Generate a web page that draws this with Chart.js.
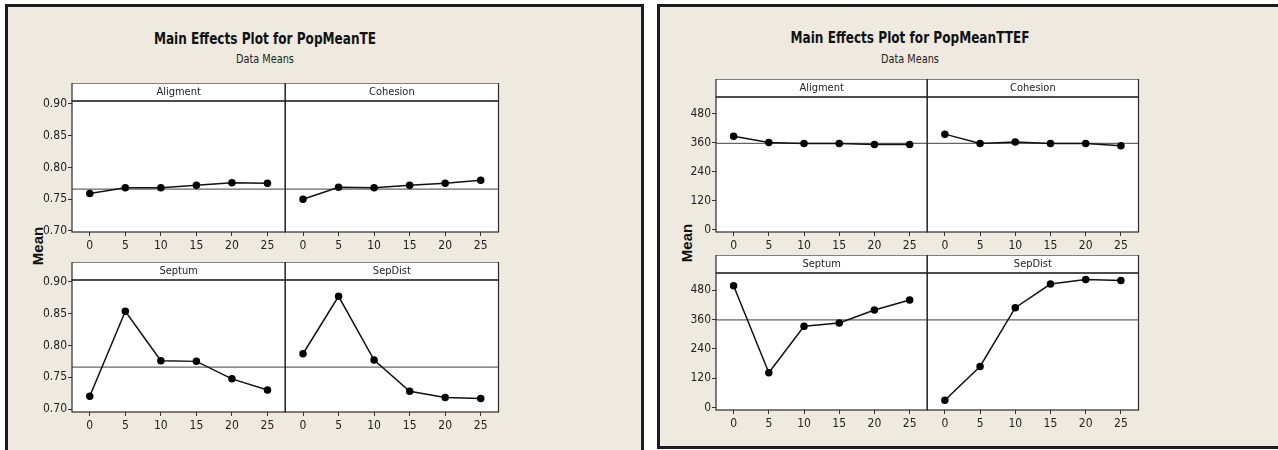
<!doctype html>
<html>
<head>
    <title>Main Effects Plots</title>
    <script src="https://cdn.jsdelivr.net/npm/chart.js@4.4.1/dist/chart.umd.min.js"></script>
    <style>
        html, body {
            margin: 0px;
            width: 1278px;
            height: 450px;
            overflow: hidden;
            background: #fff;
        }
        .panel {
            position: absolute;
            box-sizing: border-box;
            border: 3px solid #1c1c1c;
            background: #eeeae0;
        }
        .title, .sub, .ylab {
            position: absolute;
            text-align: center;
            color: #111;
            white-space: nowrap;
        }
        /* narrow, tall lettering for the headings */
        .title {
            width: 400px;
            font: bold 16px 'DejaVu Sans Condensed', 'Liberation Sans', sans-serif;
            line-height: 20px;
            transform: scaleX(0.84);
        }
        .sub {
            width: 200px;
            font: 13px 'DejaVu Sans Condensed', 'Liberation Sans', sans-serif;
            line-height: 16px;
            color: #222;
            transform: scaleX(0.83);
        }
        .ylab {
            width: 60px;
            font: bold 15px 'Liberation Sans', sans-serif;
            line-height: 16px;
            transform: rotate(-90deg);
        }
        canvas { position: absolute; }
    </style>
</head>

<body>
    <div class="panel" style="left:5px; top:4px; width:639px; height:470px;"></div>
    <div class="panel" style="left:657px; top:4px; width:660px; height:445px;"></div>

    <div class="title" style="left:65px; top:29px;">Main Effects Plot for PopMeanTE</div>
    <div class="sub" style="left:165px; top:51px;">Data Means</div>
    <div class="title" style="left:710px; top:28px;">Main Effects Plot for PopMeanTTEF</div>
    <div class="sub" style="left:810px; top:51px;">Data Means</div>
    <div class="ylab" style="left:8px; top:238px;">Mean</div>
    <div class="ylab" style="left:657px; top:235px;">Mean</div>

    <canvas id="teTop"></canvas>
    <canvas id="teBottom"></canvas>
    <canvas id="ttefTop"></canvas>
    <canvas id="ttefBottom"></canvas>

    <script>
        // factor levels (x) and the means read at each level
        var levels = [0, 5, 10, 15, 20, 25];

        var teAligment = [0.759, 0.768, 0.768, 0.772, 0.776, 0.775];
        var teCohesion = [0.750, 0.769, 0.768, 0.772, 0.775, 0.780];
        var teSeptum   = [0.720, 0.854, 0.776, 0.775, 0.7475, 0.730];
        var teSepDist  = [0.787, 0.8775, 0.777, 0.728, 0.718, 0.7167];
        var teGrandMean = 0.766;
        var teTicks = [0.70, 0.75, 0.80, 0.85, 0.90];

        var ttefAligment = [387, 361, 357, 357, 353, 353];
        var ttefCohesion = [396, 357, 363, 357, 357, 348];
        var ttefSeptum   = [498, 142, 332, 346, 399, 440];
        var ttefSepDist  = [30, 168, 408, 505, 523, 519];
        var ttefGrandMean = 358;
        var ttefTicks = [0, 120, 240, 360, 480];

        var XMIN = -2.5, XMAX = 27.5;
        var YW = 50, PR = 4, XH = 26, STRIP = 18;
        var FONT = "'DejaVu Sans Condensed', 'Liberation Sans', sans-serif";

        // draws the white plot boxes, the label strips above them and the frames
        var stripPlugin = {
            id: 'strips',
            beforeDraw: function(chart, args, opts) {
                var ctx = chart.ctx, a = chart.chartArea;
                ctx.save();
                ctx.fillStyle = '#fff';
                ['xa', 'xb'].forEach(function(id) {
                    var s = chart.scales[id];
                    ctx.fillRect(s.left, a.top - STRIP, s.right - s.left, a.bottom - a.top + STRIP);
                });
                ctx.restore();
            },
            afterDraw: function(chart, args, opts) {
                var ctx = chart.ctx, a = chart.chartArea;
                ctx.save();
                ctx.strokeStyle = '#2a2a2a';
                ctx.lineWidth = 1.2;
                ctx.fillStyle = '#222';
                ctx.font = '11px ' + FONT;
                ctx.textAlign = 'center';
                ctx.textBaseline = 'middle';
                ['xa', 'xb'].forEach(function(id, i) {
                    var s = chart.scales[id];
                    ctx.strokeRect(s.left, a.top - STRIP, s.right - s.left, STRIP);
                    ctx.strokeRect(s.left, a.top, s.right - s.left, a.bottom - a.top);
                    ctx.fillText(opts.names[i], (s.left + s.right) / 2, a.top - STRIP / 2);
                });
                ctx.restore();
            }
        };

        function xScale() {
            return {
                type: 'linear',
                position: 'bottom',
                stack: 'row',
                min: XMIN,
                max: XMAX,
                afterBuildTicks: function(s) { s.ticks = levels.map(function(v) { return {value: v}; }); },
                afterFit: function(s) { s.height = XH; },
                grid: { drawOnChartArea: false, tickLength: 4, color: '#333' },
                border: { display: false },
                ticks: { color: '#222', padding: 3, font: { family: FONT, size: 12 } }
            };
        }

        function series(vals, axis) {
            return {
                data: levels.map(function(x, k) { return {x: x, y: vals[k]}; }),
                xAxisID: axis,
                yAxisID: 'y',
                showLine: true,
                borderColor: '#111',
                borderWidth: 1.5,
                pointRadius: 3,
                pointBackgroundColor: '#000',
                pointBorderColor: '#000',
                order: 1
            };
        }

        function meanLine(mean, axis) {
            return {
                data: [{x: XMIN, y: mean}, {x: XMAX, y: mean}],
                xAxisID: axis,
                yAxisID: 'y',
                showLine: true,
                borderColor: '#666',
                borderWidth: 1.2,
                pointRadius: 0,
                order: 2
            };
        }

        function makeRow(id, box, names, a, b, mean, yTicks, yMin, yMax, digits) {
            var cv = document.getElementById(id);
            cv.width = YW + (box.right - box.left) + PR;
            cv.height = box.bottom - box.top + STRIP + XH;
            cv.style.left = (box.left - YW) + 'px';
            cv.style.top = (box.top - STRIP) + 'px';

            return new Chart(cv.getContext('2d'), {
                type: 'scatter',
                data: {
                    datasets: [
                        series(a, 'xa'), series(b, 'xb'),
                        meanLine(mean, 'xa'), meanLine(mean, 'xb')
                    ]
                },
                plugins: [stripPlugin],
                options: {
                    responsive: false,
                    animation: false,
                    layout: { padding: { top: STRIP, right: PR, left: 0, bottom: 0 } },
                    plugins: {
                        legend: { display: false },
                        tooltip: { enabled: false },
                        strips: { names: names }
                    },
                    scales: {
                        xa: xScale(),
                        xb: xScale(),
                        y: {
                            type: 'linear',
                            position: 'left',
                            min: yMin,
                            max: yMax,
                            afterBuildTicks: function(s) { s.ticks = yTicks.map(function(v) { return {value: v}; }); },
                            afterFit: function(s) { s.width = YW; },
                            grid: { drawOnChartArea: false, tickLength: 4, color: '#333' },
                            border: { display: false },
                            ticks: {
                                color: '#222',
                                padding: 1,
                                font: { family: FONT, size: 12 },
                                callback: function(v) { return v.toFixed(digits); }
                            }
                        }
                    }
                }
            });
        }

        window.onload = function() {
            makeRow('teTop', {left: 72, right: 500, top: 101, bottom: 232}, ['Aligment', 'Cohesion'],
                teAligment, teCohesion, teGrandMean, teTicks, 0.6984, 0.9047, 2);
            makeRow('teBottom', {left: 72, right: 500, top: 280, bottom: 412}, ['Septum', 'SepDist'],
                teSeptum, teSepDist, teGrandMean, teTicks, 0.6953, 0.9031, 2);
            makeRow('ttefTop', {left: 716, right: 1140, top: 97, bottom: 232}, ['Aligment', 'Cohesion'],
                ttefAligment, ttefCohesion, ttefGrandMean, ttefTicks, -10, 550, 0);
            makeRow('ttefBottom', {left: 716, right: 1140, top: 273, bottom: 410}, ['Septum', 'SepDist'],
                ttefSeptum, ttefSepDist, ttefGrandMean, ttefTicks, -10, 550, 0);
        };
    </script>
</body>
</html>
